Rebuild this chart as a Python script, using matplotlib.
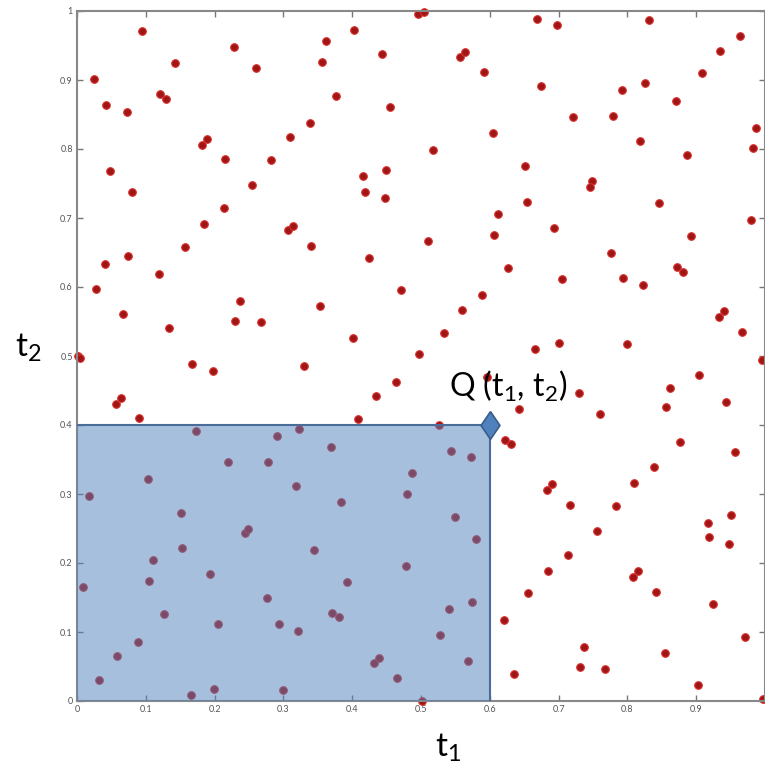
import numpy as np
from matplotlib import pyplot as plt
from matplotlib.patches import Rectangle

plt.rcParams['font.family'] = ['Lato', 'DejaVu Sans']

# sample points (t1, t2)
t1_vals = [0.025, 0.0945, 0.042, 0.072, 0.0485, 0.0795, 0.121, 0.130, 0.142, 0.182,
           0.1885, 0.215, 0.184, 0.213, 0.228, 0.260, 0.255, 0.282, 0.309, 0.307,
           0.314, 0.495, 0.505, 0.403, 0.3615, 0.3556, 0.443, 0.377, 0.455, 0.338,
           0.557, 0.564, 0.591, 0.604, 0.518, 0.416, 0.449, 0.418, 0.447, 0.651,
           0.654, 0.612, 0.606, 0.510, 0.669, 0.698, 0.831, 0.964, 0.935, 0.908,
           0.674, 0.792, 0.825, 0.7205, 0.779, 0.871, 0.987, 0.982, 0.819, 0.886,
           0.748, 0.745, 0.846, 0.979, 0.694, 0.893, 0.001, 0.004, 0.027, 0.040,
           0.074, 0.067, 0.119, 0.157, 0.134, 0.167, 0.197, 0.056, 0.0635, 0.090,
           0.2365, 0.230, 0.267, 0.173, 0.291, 0.322, 0.220, 0.278, 0.340, 0.424,
           0.627, 0.4705, 0.588, 0.559, 0.353, 0.401, 0.533, 0.497, 0.330, 0.464,
           0.434, 0.5955, 0.643, 0.408, 0.622, 0.631, 0.369, 0.526, 0.543, 0.573,
           0.776, 0.705, 0.794, 0.823, 0.872, 0.881, 0.933, 0.940, 0.966, 0.995,
           0.666, 0.700, 0.799, 0.904, 0.729, 0.862, 0.856, 0.944, 0.760, 0.877,
           0.956, 0.839, 0.017, 0.103, 0.151, 0.153, 0.111, 0.105, 0.009, 0.193,
           0.244, 0.249, 0.276, 0.1265, 0.205, 0.293, 0.321, 0.088, 0.0586, 0.032,
           0.166, 0.199, 0.299, 0.318, 0.384, 0.487, 0.480, 0.549, 0.580, 0.345,
           0.478, 0.393, 0.371, 0.381, 0.541, 0.574, 0.528, 0.432, 0.439, 0.465,
           0.568, 0.502, 0.656, 0.620, 0.635, 0.810, 0.683, 0.690, 0.716, 0.783,
           0.756, 0.917, 0.919, 0.950, 0.948, 0.714, 0.685, 0.808, 0.815, 0.841,
           0.925, 0.971, 0.737, 0.854, 0.731, 0.768, 0.902, 0.997]
t2_vals = [0.901, 0.971, 0.864, 0.854, 0.768, 0.737, 0.880, 0.873, 0.925, 0.806,
           0.815, 0.785, 0.691, 0.714, 0.948, 0.917, 0.748, 0.784, 0.817, 0.682,
           0.689, 0.995, 0.999, 0.973, 0.956, 0.9265, 0.937, 0.877, 0.861, 0.838,
           0.933, 0.941, 0.911, 0.823, 0.799, 0.761, 0.769, 0.738, 0.729, 0.776,
           0.723, 0.706, 0.676, 0.667, 0.988, 0.980, 0.987, 0.964, 0.942, 0.910,
           0.892, 0.886, 0.896, 0.846, 0.848, 0.870, 0.830, 0.801, 0.811, 0.791,
           0.753, 0.745, 0.722, 0.697, 0.685, 0.674, 0.500, 0.497, 0.597, 0.634,
           0.645, 0.561, 0.619, 0.658, 0.541, 0.488, 0.478, 0.431, 0.439, 0.410,
           0.580, 0.550, 0.549, 0.392, 0.384, 0.394, 0.346, 0.347, 0.660, 0.642,
           0.627, 0.596, 0.588, 0.566, 0.572, 0.526, 0.533, 0.503, 0.486, 0.462,
           0.442, 0.470, 0.423, 0.408, 0.378, 0.373, 0.368, 0.400, 0.363, 0.353,
           0.650, 0.611, 0.6135, 0.603, 0.629, 0.622, 0.5565, 0.565, 0.535, 0.494,
           0.510, 0.519, 0.518, 0.4725, 0.446, 0.454, 0.426, 0.434, 0.4155, 0.376,
           0.361, 0.3386, 0.297, 0.322, 0.273, 0.222, 0.204, 0.174, 0.165, 0.184,
           0.243, 0.250, 0.149, 0.126, 0.111, 0.112, 0.102, 0.0855, 0.065, 0.031,
           0.008, 0.018, 0.016, 0.311, 0.289, 0.330, 0.2995, 0.266, 0.235, 0.219,
           0.196, 0.1725, 0.127, 0.122, 0.134, 0.143, 0.096, 0.055, 0.062, 0.033,
           0.058, 0.000, 0.157, 0.118, 0.039, 0.3155, 0.306, 0.3145, 0.284, 0.282,
           0.246, 0.258, 0.237, 0.269, 0.227, 0.211, 0.189, 0.180, 0.188, 0.158,
           0.141, 0.093, 0.078, 0.070, 0.049, 0.046, 0.023, 0.0025]

# point Q
q_t1 = 0.6
q_t2 = 0.4
ticks = np.round(np.arange(0, 1.01, 0.1), 1)
y_tick_labels = ['0', '0.1', '0.2', '0.3', '0.4', '0.5', '0.6', '0.7', '0.8', '0.9', '1']
# the "1" on the x axis falls off the right edge in the original
x_tick_labels = ['0', '0.1', '0.2', '0.3', '0.4', '0.5', '0.6', '0.7', '0.8', '0.9', '']

fig = plt.figure(figsize=(7.65, 7.67), dpi=100)
ax = fig.add_axes([77/765, 66/767, 688/765, 690/767])

ax.scatter(t1_vals, t2_vals, s=30, facecolor='#a01515', edgecolor='#d8302c',
           linewidth=0.8, zorder=2, clip_on=False)

# shaded box [0,t1] x [0,t2]
box = Rectangle((0, 0), q_t1, q_t2, facecolor='#4F81BD', alpha=0.5,
                edgecolor='none', zorder=3)
ax.add_patch(box)
ax.plot([0, q_t1, q_t1], [q_t2, q_t2, 0], color='#4a6c98', lw=1.5, zorder=4)
diamond = [(0, 1), (0.68, 0), (0, -1), (-0.68, 0), (0, 1)]
ax.plot([q_t1], [q_t2], marker=diamond, markersize=20, color='#4F81BD',
        markeredgecolor='#385D8A', markeredgewidth=1.2, zorder=5, clip_on=False)

ax.text(0.541, 0.44, 'Q ($\\mathregular{t_1}$, $\\mathregular{t_2}$)',
        fontsize=23, ha='left', va='baseline', zorder=6)

ax.set_xlim(0, 1)
ax.set_ylim(0, 1)
ax.set_xticks(ticks)
ax.set_yticks(ticks)
ax.set_xticklabels(x_tick_labels)
ax.set_yticklabels(y_tick_labels)
ax.tick_params(direction='in', length=4, width=1, color='#777777',
               labelsize=6.5, labelcolor='#555555', top=True, right=True, pad=3)
for s in ax.spines.values():
    s.set_color('#888888')
    s.set_linewidth(1.5)

fig.text(448/765, 1 - 748/767, '$\\mathregular{t_1}$', fontsize=24,
         ha='center', va='center')
fig.text(28/765, 1 - 348/767, '$\\mathregular{t_2}$', fontsize=24,
         ha='center', va='center')

plt.savefig('out.png', dpi=100)
